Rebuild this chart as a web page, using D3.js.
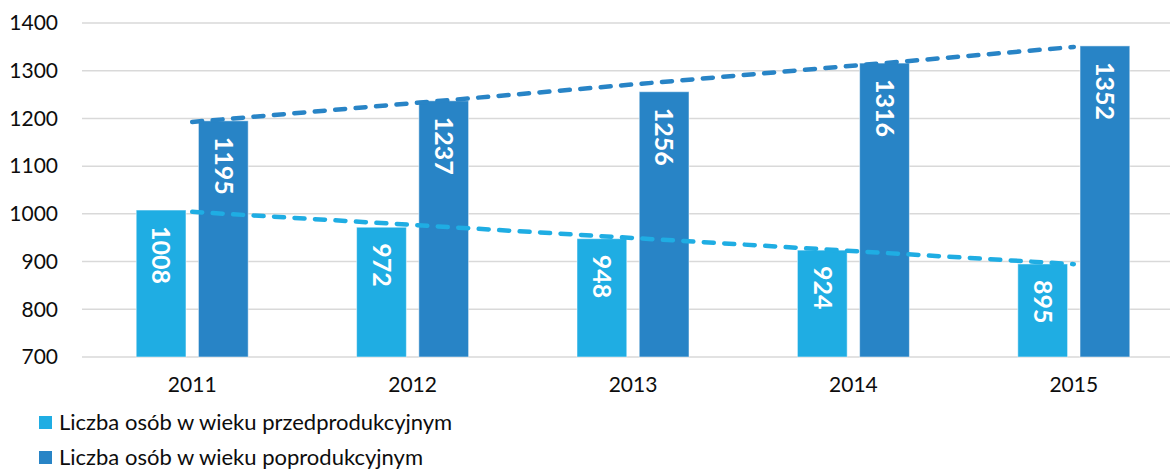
<!DOCTYPE html>
<html>
<head>
<meta charset="utf-8">
<script src="https://cdn.jsdelivr.net/npm/d3@7"></script>
<style>
  html, body { margin: 0; padding: 0; background: #fff; overflow: hidden; }
  svg { display: block; font-family: Lato, "Open Sans", sans-serif; }
</style>
</head>
<body>
<svg id="chart" width="1170" height="470"></svg>
<script>
var years = ['2011', '2012', '2013', '2014', '2015'];
var preProductive = [1008, 972, 948, 924, 895];
var postProductive = [1195, 1237, 1256, 1316, 1352];
var seriesNames = ['Liczba osób w wieku przedprodukcyjnym', 'Liczba osób w wieku poprodukcyjnym'];
var yTicks = [700, 800, 900, 1000, 1100, 1200, 1300, 1400];

var COLORS = ['#1fade3', '#2884c6'];
var TEXT = '#0d0d0d';

var svg = d3.select('#chart');
var plot = { left: 82, right: 1184, top: 23, bottom: 357 };

var x = d3.scaleBand().domain(years).range([plot.left, plot.right]);
var half = 56;
var x1 = d3.scaleBand().domain([0, 1])
  .range([x.bandwidth() / 2 - half, x.bandwidth() / 2 + half])
  .paddingInner(0.2);
var y = d3.scaleLinear().domain([700, 1400]).range([plot.bottom, plot.top]);

// grid
svg.append('g').selectAll('line').data(yTicks).join('line')
  .attr('x1', plot.left).attr('x2', 1170)
  .attr('y1', function (d) { return y(d); })
  .attr('y2', function (d) { return y(d); })
  .attr('stroke', '#d9d9d9')
  .attr('stroke-width', 1.5);

// y axis
var yAxis = d3.axisLeft(y).tickValues(yTicks).tickFormat(d3.format('d'))
  .tickSize(0).tickPadding(0);
svg.append('g')
  .attr('transform', 'translate(58,0)')
  .call(yAxis)
  .call(function (g) { g.select('.domain').remove(); })
  .selectAll('text')
  .attr('font-size', 21)
  .attr('font-family', 'Lato, "Open Sans", sans-serif')
  .attr('fill', TEXT);

// x axis
var xAxis = d3.axisBottom(x).tickSize(0).tickPadding(0);
svg.append('g')
  .attr('transform', 'translate(0,' + (plot.bottom + 20) + ')')
  .call(xAxis)
  .call(function (g) { g.select('.domain').remove(); })
  .selectAll('text')
  .attr('font-size', 21)
  .attr('font-family', 'Lato, "Open Sans", sans-serif')
  .attr('fill', TEXT);

var series = [preProductive, postProductive];

series.forEach(function (values, si) {
  var g = svg.append('g');
  var rows = years.map(function (yr, i) { return { year: yr, value: values[i] }; });
  g.selectAll('rect').data(rows).join('rect')
    .attr('x', function (d) { return x(d.year) + x1(si); })
    .attr('width', x1.bandwidth())
    .attr('y', function (d) { return y(d.value); })
    .attr('height', function (d) { return y(700) - y(d.value); })
    .attr('fill', COLORS[si])
    .attr('stroke', 'rgba(255,255,255,0.5)')
    .attr('stroke-width', 1);

  g.selectAll('text').data(rows).join('text')
    .attr('transform', function (d) {
      var cx = x(d.year) + x1(si) + x1.bandwidth() / 2;
      return 'translate(' + cx + ',' + (y(d.value) + 16) + ') rotate(90)';
    })
    .attr('dy', '0.35em')
    .attr('text-anchor', 'start')
    .attr('font-size', 25)
    .attr('font-weight', 'bold')
    .attr('font-family', 'Lato, "Open Sans", sans-serif')
    .attr('fill', '#fff')
    .text(function (d) { return d.value; });
});

// linear trend lines from category centres
function trend(values) {
  var n = values.length;
  var mx = (n - 1) / 2;
  var my = d3.mean(values);
  var num = d3.sum(values, function (v, i) { return (i - mx) * (v - my); });
  var den = d3.sum(values, function (v, i) { return (i - mx) * (i - mx); });
  var b = num / den;
  return [0, n - 1].map(function (i) { return { i: i, v: my + b * (i - mx) }; });
}

var line = d3.line()
  .x(function (d) { return x(years[d.i]) + x.bandwidth() / 2; })
  .y(function (d) { return y(d.v); });

series.forEach(function (values, si) {
  svg.append('path')
    .attr('d', line(trend(values)))
    .attr('fill', 'none')
    .attr('stroke', COLORS[si])
    .attr('stroke-width', 4.5)
    .attr('stroke-linecap', 'round')
    .attr('stroke-dasharray', '10,10.5');
});

// legend
var legend = svg.append('g').selectAll('g').data(seriesNames).join('g')
  .attr('transform', function (d, i) { return 'translate(39,' + (416 + i * 35) + ')'; });
legend.append('rect')
  .attr('width', 13).attr('height', 13)
  .attr('fill', function (d, i) { return COLORS[i]; });
legend.append('text')
  .attr('x', 20).attr('y', 6.5).attr('dy', '0.35em')
  .attr('font-size', 22)
  .attr('fill', TEXT)
  .text(function (d) { return d; });
</script>
</body>
</html>
